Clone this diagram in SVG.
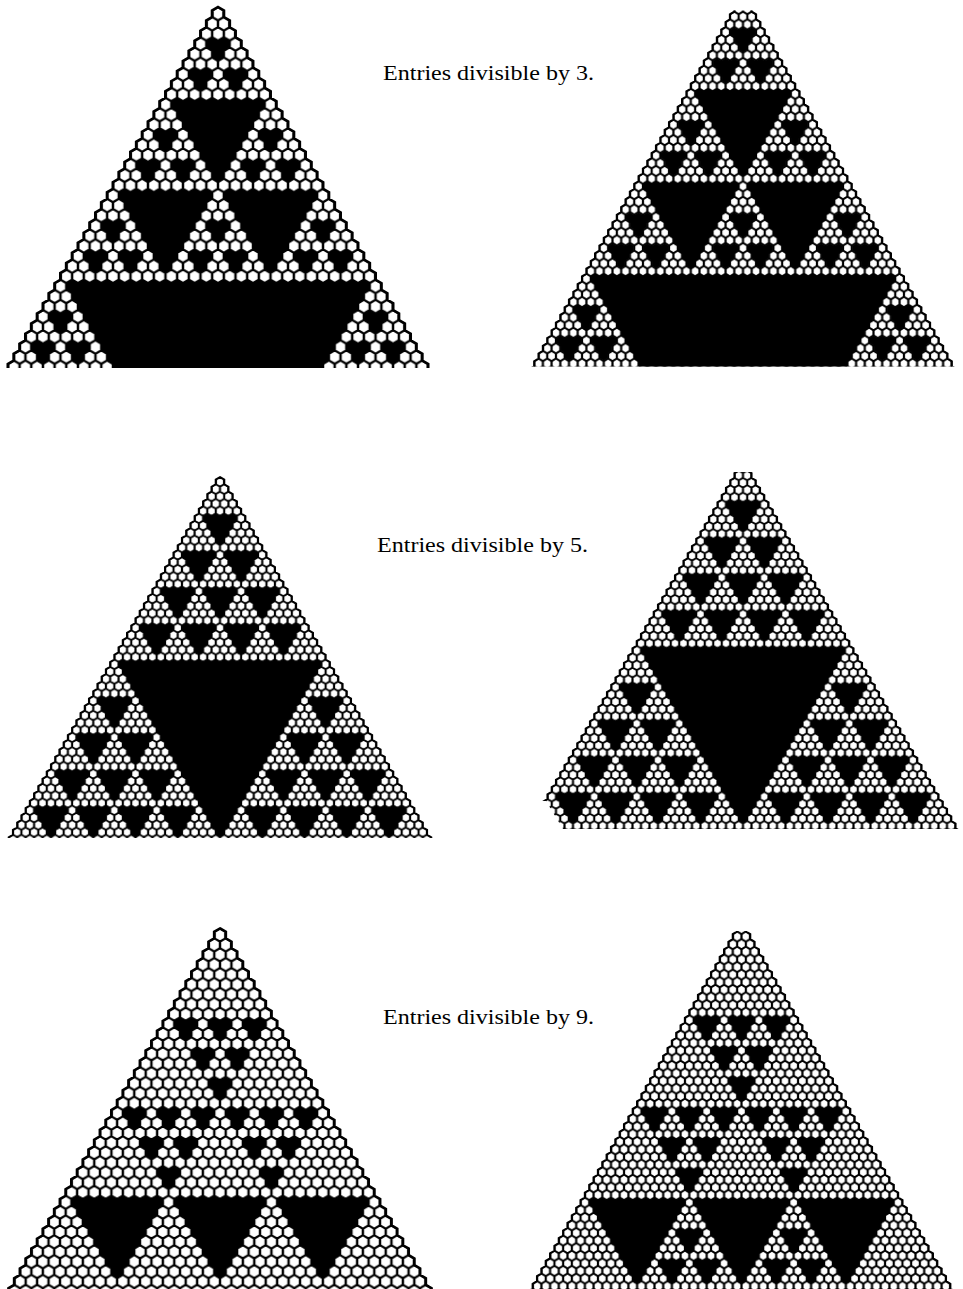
<svg xmlns="http://www.w3.org/2000/svg" width="963" height="1289" viewBox="0 0 963 1289">
<style>
text{font-family:"Liberation Serif","Times New Roman",serif;font-size:22px;fill:#000}
.ol{fill:none;stroke:#000;stroke-width:.25}
</style>
<defs>
<path id="T" d="M0-.667
l.5.333v.667l.5.333v.667l.5.333v.667l.5.333v.667 l.5.333v.667l.5.333v.667l.5.333v.667l.5.333v.667 l.5.333v.667l.5.333v.667l.5.333v.667l.5.333v.667 l.5.333v.667l.5.333v.667l.5.333v.667l.5.333v.667
l.5.333v.667l.5.333v.667l.5.333v.667l.5.333v.667 l.5.333v.667l.5.333v.667l.5.333v.667l.5.333v.667 l.5.333v.667l.5.333v.667l.5.333v.667l.5.333v.667 l.5.333v.667l.5.333v.667l.5.333v.667l.5.333v.667
l.5.333v.667l.5.333v.667l.5.333v.667l.5.333v.667 l.5.333v.667l.5.333v.667l.5.333v.667l.5.333v.667 l.5.333v.667l.5.333v.667l.5.333v.667l.5.333v.667 l.5.333v.667l.5.333v.667l.5.333v.667l.5.333v.667
l.5.333v.667l.5.333v.667l.5.333v.667l.5.333v.667
H-26
v-.667l.5-.333v-.667l.5-.333v-.667l.5-.333v-.667l.5-.333 v-.667l.5-.333v-.667l.5-.333v-.667l.5-.333v-.667l.5-.333 v-.667l.5-.333v-.667l.5-.333v-.667l.5-.333v-.667l.5-.333 v-.667l.5-.333v-.667l.5-.333v-.667l.5-.333v-.667l.5-.333
v-.667l.5-.333v-.667l.5-.333v-.667l.5-.333v-.667l.5-.333 v-.667l.5-.333v-.667l.5-.333v-.667l.5-.333v-.667l.5-.333 v-.667l.5-.333v-.667l.5-.333v-.667l.5-.333v-.667l.5-.333 v-.667l.5-.333v-.667l.5-.333v-.667l.5-.333v-.667l.5-.333
v-.667l.5-.333v-.667l.5-.333v-.667l.5-.333v-.667l.5-.333 v-.667l.5-.333v-.667l.5-.333v-.667l.5-.333v-.667l.5-.333 v-.667l.5-.333v-.667l.5-.333v-.667l.5-.333v-.667l.5-.333 v-.667l.5-.333v-.667l.5-.333v-.667l.5-.333v-.667l.5-.333
v-.667l.5-.333v-.667l.5-.333v-.667l.5-.333v-.667l.5-.333
z"/>
<clipPath id="cT"><use href="#T"/></clipPath>
<path id="hexes" d="M.5-.167l.5.333v.667l-.5.333l-.5-.333v-.667z M0 .833l.5.333v.667l-.5.333l-.5-.333v-.667z M1 .833l.5.333v.667l-.5.333l-.5-.333v-.667z M0-1.167l.5.333v.667l-.5.333l-.5-.333v-.667z M1-1.167l.5.333v.667l-.5.333l-.5-.333v-.667z M.5 1.833l.5.333v.667l-.5.333l-.5-.333v-.667z" fill="none" stroke="#000"/>
<pattern id="hx" patternUnits="userSpaceOnUse" x="-.5" y="-.5" width="1" height="2">
<use href="#hexes" stroke-width=".21"/>
</pattern>
<pattern id="hx2" patternUnits="userSpaceOnUse" x="-.5" y="-.5" width="1" height="2">
<use href="#hexes" stroke-width=".25"/>
</pattern>
<path id="t2" d="M-.5-.333 l.5-.333l.5.333l.5-.333l.5.333 v.667l-.5.333v.667l-.5.333 l-.5-.333v-.667l-.5-.333v-.667z"/>
<path id="t3" d="M-.5-.333 l.5-.333l.5.333l.5-.333l.5.333l.5-.333l.5.333 v.667l-.5.333v.667l-.5.333v.667l-.5.333 l-.5-.333v-.667l-.5-.333v-.667l-.5-.333v-.667z"/>
<path id="t4" d="M-.5-.333 l.5-.333l.5.333l.5-.333l.5.333l.5-.333l.5.333l.5-.333l.5.333 v.667l-.5.333v.667l-.5.333v.667l-.5.333v.667l-.5.333 l-.5-.333v-.667l-.5-.333v-.667l-.5-.333v-.667l-.5-.333v-.667z"/>
<path id="t8" d="M-.5-.333
l.5-.333l.5.333l.5-.333l.5.333l.5-.333l.5.333l.5-.333l.5.333l.5-.333l.5.333 l.5-.333l.5.333l.5-.333l.5.333l.5-.333l.5.333
v.667l-.5.333v.667l-.5.333v.667l-.5.333v.667l-.5.333v.667l-.5.333 v.667l-.5.333v.667l-.5.333v.667l-.5.333
l-.5-.333v-.667l-.5-.333v-.667l-.5-.333v-.667l-.5-.333v-.667l-.5-.333v-.667 l-.5-.333v-.667l-.5-.333v-.667l-.5-.333v-.667z"/>
<path id="t11" d="M-.5-.333
l.5-.333l.5.333l.5-.333l.5.333l.5-.333l.5.333l.5-.333l.5.333l.5-.333l.5.333 l.5-.333l.5.333l.5-.333l.5.333l.5-.333l.5.333l.5-.333l.5.333l.5-.333l.5.333 l.5-.333l.5.333
v.667l-.5.333v.667l-.5.333v.667l-.5.333v.667l-.5.333v.667l-.5.333 v.667l-.5.333v.667l-.5.333v.667l-.5.333v.667l-.5.333v.667l-.5.333 v.667l-.5.333
l-.5-.333v-.667l-.5-.333v-.667l-.5-.333v-.667l-.5-.333v-.667l-.5-.333v-.667 l-.5-.333v-.667l-.5-.333v-.667l-.5-.333v-.667l-.5-.333v-.667l-.5-.333v-.667 l-.5-.333v-.667z"/>
<path id="t24" d="M-.5-.333
l.5-.333l.5.333l.5-.333l.5.333l.5-.333l.5.333l.5-.333l.5.333l.5-.333l.5.333 l.5-.333l.5.333l.5-.333l.5.333l.5-.333l.5.333l.5-.333l.5.333l.5-.333l.5.333 l.5-.333l.5.333l.5-.333l.5.333l.5-.333l.5.333l.5-.333l.5.333l.5-.333l.5.333 l.5-.333l.5.333l.5-.333l.5.333l.5-.333l.5.333l.5-.333l.5.333l.5-.333l.5.333 l.5-.333l.5.333l.5-.333l.5.333l.5-.333l.5.333l.5-.333l.5.333
v.667l-.5.333v.667l-.5.333v.667l-.5.333v.667l-.5.333v.667l-.5.333 v.667l-.5.333v.667l-.5.333v.667l-.5.333v.667l-.5.333v.667l-.5.333 v.667l-.5.333v.667l-.5.333v.667l-.5.333v.667l-.5.333v.667l-.5.333 v.667l-.5.333v.667l-.5.333v.667l-.5.333v.667l-.5.333v.667l-.5.333 v.667l-.5.333v.667l-.5.333v.667l-.5.333v.667l-.5.333
l-.5-.333v-.667l-.5-.333v-.667l-.5-.333v-.667l-.5-.333v-.667l-.5-.333v-.667 l-.5-.333v-.667l-.5-.333v-.667l-.5-.333v-.667l-.5-.333v-.667l-.5-.333v-.667 l-.5-.333v-.667l-.5-.333v-.667l-.5-.333v-.667l-.5-.333v-.667l-.5-.333v-.667 l-.5-.333v-.667l-.5-.333v-.667l-.5-.333v-.667l-.5-.333v-.667l-.5-.333v-.667 l-.5-.333v-.667l-.5-.333v-.667l-.5-.333v-.667l-.5-.333v-.667z"/>
<path id="t26" d="M-.5-.333
l.5-.333l.5.333l.5-.333l.5.333l.5-.333l.5.333l.5-.333l.5.333l.5-.333l.5.333 l.5-.333l.5.333l.5-.333l.5.333l.5-.333l.5.333l.5-.333l.5.333l.5-.333l.5.333 l.5-.333l.5.333l.5-.333l.5.333l.5-.333l.5.333l.5-.333l.5.333l.5-.333l.5.333 l.5-.333l.5.333l.5-.333l.5.333l.5-.333l.5.333l.5-.333l.5.333l.5-.333l.5.333 l.5-.333l.5.333l.5-.333l.5.333l.5-.333l.5.333l.5-.333l.5.333l.5-.333l.5.333 l.5-.333l.5.333
v.667l-.5.333v.667l-.5.333v.667l-.5.333v.667l-.5.333v.667l-.5.333 v.667l-.5.333v.667l-.5.333v.667l-.5.333v.667l-.5.333v.667l-.5.333 v.667l-.5.333v.667l-.5.333v.667l-.5.333v.667l-.5.333v.667l-.5.333 v.667l-.5.333v.667l-.5.333v.667l-.5.333v.667l-.5.333v.667l-.5.333 v.667l-.5.333v.667l-.5.333v.667l-.5.333v.667l-.5.333v.667l-.5.333 v.667l-.5.333
l-.5-.333v-.667l-.5-.333v-.667l-.5-.333v-.667l-.5-.333v-.667l-.5-.333v-.667 l-.5-.333v-.667l-.5-.333v-.667l-.5-.333v-.667l-.5-.333v-.667l-.5-.333v-.667 l-.5-.333v-.667l-.5-.333v-.667l-.5-.333v-.667l-.5-.333v-.667l-.5-.333v-.667 l-.5-.333v-.667l-.5-.333v-.667l-.5-.333v-.667l-.5-.333v-.667l-.5-.333v-.667 l-.5-.333v-.667l-.5-.333v-.667l-.5-.333v-.667l-.5-.333v-.667l-.5-.333v-.667 l-.5-.333v-.667z"/>
<path id="t35" d="M-.5-.333
l.5-.333l.5.333l.5-.333l.5.333l.5-.333l.5.333l.5-.333l.5.333l.5-.333l.5.333 l.5-.333l.5.333l.5-.333l.5.333l.5-.333l.5.333l.5-.333l.5.333l.5-.333l.5.333 l.5-.333l.5.333l.5-.333l.5.333l.5-.333l.5.333l.5-.333l.5.333l.5-.333l.5.333 l.5-.333l.5.333l.5-.333l.5.333l.5-.333l.5.333l.5-.333l.5.333l.5-.333l.5.333 l.5-.333l.5.333l.5-.333l.5.333l.5-.333l.5.333l.5-.333l.5.333l.5-.333l.5.333 l.5-.333l.5.333l.5-.333l.5.333l.5-.333l.5.333l.5-.333l.5.333l.5-.333l.5.333 l.5-.333l.5.333l.5-.333l.5.333l.5-.333l.5.333l.5-.333l.5.333l.5-.333l.5.333
v.667l-.5.333v.667l-.5.333v.667l-.5.333v.667l-.5.333v.667l-.5.333 v.667l-.5.333v.667l-.5.333v.667l-.5.333v.667l-.5.333v.667l-.5.333 v.667l-.5.333v.667l-.5.333v.667l-.5.333v.667l-.5.333v.667l-.5.333 v.667l-.5.333v.667l-.5.333v.667l-.5.333v.667l-.5.333v.667l-.5.333 v.667l-.5.333v.667l-.5.333v.667l-.5.333v.667l-.5.333v.667l-.5.333 v.667l-.5.333v.667l-.5.333v.667l-.5.333v.667l-.5.333v.667l-.5.333 v.667l-.5.333v.667l-.5.333v.667l-.5.333v.667l-.5.333v.667l-.5.333
l-.5-.333v-.667l-.5-.333v-.667l-.5-.333v-.667l-.5-.333v-.667l-.5-.333v-.667 l-.5-.333v-.667l-.5-.333v-.667l-.5-.333v-.667l-.5-.333v-.667l-.5-.333v-.667 l-.5-.333v-.667l-.5-.333v-.667l-.5-.333v-.667l-.5-.333v-.667l-.5-.333v-.667 l-.5-.333v-.667l-.5-.333v-.667l-.5-.333v-.667l-.5-.333v-.667l-.5-.333v-.667 l-.5-.333v-.667l-.5-.333v-.667l-.5-.333v-.667l-.5-.333v-.667l-.5-.333v-.667 l-.5-.333v-.667l-.5-.333v-.667l-.5-.333v-.667l-.5-.333v-.667l-.5-.333v-.667 l-.5-.333v-.667l-.5-.333v-.667l-.5-.333v-.667l-.5-.333v-.667l-.5-.333v-.667z"/>
<pattern id="gp" patternUnits="userSpaceOnUse" x="0" y="-1" width="4" height="8">
<use href="#t3" x="1" y="1"/><use href="#t3" x="3" y="5"/><use href="#t3" x="-1" y="5"/>
</pattern>
<g id="h9"><use href="#t2" x="-.5" y="3"/><use href="#t2" x="-2" y="6"/><use href="#t2" x="1" y="6"/></g>
<g id="m25">
<use href="#t4" x="-1.5" y="5"/>
<use href="#t4" x="-4" y="10"/><use href="#t4" x="1" y="10"/>
<use href="#t4" x="-6.5" y="15"/><use href="#t4" x="-1.5" y="15"/><use href="#t4" x="3.5" y="15"/>
<use href="#t4" x="-9" y="20"/><use href="#t4" x="-4" y="20"/><use href="#t4" x="1" y="20"/><use href="#t4" x="6" y="20"/>
</g>
<clipPath id="kTL"><rect x="0" y="0" width="450" height="368"/></clipPath>
<clipPath id="kTR"><rect x="515" y="10.5" width="448" height="356"/></clipPath>
<clipPath id="kML"><rect x="0" y="465" width="450" height="373"/></clipPath>
<clipPath id="kMR"><path d="M515 472H963V829H563L546 801H515Z"/></clipPath>
<clipPath id="kBL"><rect x="0" y="915" width="450" height="374"/></clipPath>
<clipPath id="kBR"><rect x="515" y="931" width="448" height="358"/></clipPath>
</defs>
<rect width="963" height="1289" fill="#fff"/>

<g id="fig-top-left" clip-path="url(#kTL)">
<g transform="translate(218 13.74) scale(11.67 10.1)">
<rect x="-27" y="-1" width="54" height="54" fill="url(#hx)" clip-path="url(#cT)"/>
<use href="#h9"/><use href="#h9" x="-4.5" y="9"/><use href="#h9" x="4.5" y="9"/>
<use href="#h9" x="-9" y="18"/><use href="#h9" y="18"/><use href="#h9" x="9" y="18"/>
<use href="#h9" x="-13.5" y="27"/><use href="#h9" x="13.5" y="27"/>
<use href="#t8" x="-3.5" y="9"/><use href="#t8" x="-8" y="18"/><use href="#t8" x="1" y="18"/>
<use href="#t26" x="-12.5" y="27"/>
<use href="#T" class="ol"/>
</g>
</g>

<g id="fig-top-right" clip-path="url(#kTR)">
<g transform="translate(743 1.35) scale(8.7 7.71)">
<rect x="-27" y="-1" width="54" height="54" fill="url(#hx2)" clip-path="url(#cT)"/>
<rect x="-27" y="-1" width="54" height="54" fill="url(#gp)" clip-path="url(#cT)"/>
<use href="#t11" x="-5" y="12"/><use href="#t11" x="-11" y="24"/><use href="#t11" x="1" y="24"/>
<use href="#t35" x="-17" y="36"/>
<use href="#T" class="ol"/>
</g>
</g>

<g id="fig-mid-left" clip-path="url(#kML)">
<g transform="translate(220 481.9) scale(8.45 7.3)">
<rect x="-27" y="-1" width="54" height="54" fill="url(#hx2)" clip-path="url(#cT)"/>
<use href="#m25"/><use href="#m25" x="-12.5" y="25"/><use href="#m25" x="12.5" y="25"/>
<use href="#t24" x="-11.5" y="25"/>
<use href="#T" class="ol"/>
</g>
</g>

<g id="fig-mid-right" clip-path="url(#kMR)">
<g transform="translate(743 468.2) scale(8.5 7.3)">
<rect x="-27" y="-1" width="54" height="54" fill="url(#hx2)" clip-path="url(#cT)"/>
<use href="#m25"/><use href="#m25" x="-12.5" y="25"/><use href="#m25" x="12.5" y="25"/>
<use href="#t24" x="-11.5" y="25"/>
<use href="#T" class="ol"/>
</g>
</g>

<g id="fig-bottom-left" clip-path="url(#kBL)">
<g transform="translate(220 935) scale(11.43 9.9)">
<rect x="-27" y="-1" width="54" height="54" fill="url(#hx)" clip-path="url(#cT)"/>
<use href="#t2" x="-3.5" y="9"/><use href="#t2" x="-.5" y="9"/><use href="#t2" x="2.5" y="9"/>
<use href="#t2" x="-2" y="12"/><use href="#t2" x="1" y="12"/>
<use href="#t2" x="-.5" y="15"/>
<use href="#t2" x="-8" y="18"/><use href="#t2" x="-5" y="18"/><use href="#t2" x="-2" y="18"/><use href="#t2" x="1" y="18"/><use href="#t2" x="4" y="18"/><use href="#t2" x="7" y="18"/>
<use href="#t2" x="-6.5" y="21"/><use href="#t2" x="-3.5" y="21"/><use href="#t2" x="2.5" y="21"/><use href="#t2" x="5.5" y="21"/>
<use href="#t2" x="-5" y="24"/><use href="#t2" x="4" y="24"/>
<use href="#t8" x="-12.5" y="27"/><use href="#t8" x="-3.5" y="27"/><use href="#t8" x="5.5" y="27"/>
<use href="#T" class="ol"/>
</g>
</g>

<g id="fig-bottom-right" clip-path="url(#kBR)">
<g transform="translate(741.5 929) scale(8.7 7.6)">
<rect x="-27" y="-1" width="54" height="54" fill="url(#hx2)" clip-path="url(#cT)"/>
<use href="#t3" x="-5" y="12"/><use href="#t3" x="-1" y="12"/><use href="#t3" x="3" y="12"/>
<use href="#t3" x="-3" y="16"/><use href="#t3" x="1" y="16"/>
<use href="#t3" x="-1" y="20"/>
<use href="#t3" x="-11" y="24"/><use href="#t3" x="-7" y="24"/><use href="#t3" x="-3" y="24"/><use href="#t3" x="1" y="24"/><use href="#t3" x="5" y="24"/><use href="#t3" x="9" y="24"/>
<use href="#t3" x="-9" y="28"/><use href="#t3" x="-5" y="28"/><use href="#t3" x="3" y="28"/><use href="#t3" x="7" y="28"/>
<use href="#t3" x="-7" y="32"/><use href="#t3" x="5" y="32"/>
<use href="#t11" x="-17" y="36"/><use href="#t11" x="-5" y="36"/><use href="#t11" x="7" y="36"/>
<use href="#t3" x="-7" y="40"/><use href="#t3" x="5" y="40"/>
<use href="#t3" x="-9" y="44"/><use href="#t3" x="-5" y="44"/><use href="#t3" x="3" y="44"/><use href="#t3" x="7" y="44"/>
<use href="#T" class="ol"/>
</g>
</g>

<g id="label-3"><text x="383" y="80" textLength="211" lengthAdjust="spacingAndGlyphs">Entries divisible by 3.</text></g>
<g id="label-5"><text x="377" y="552" textLength="211" lengthAdjust="spacingAndGlyphs">Entries divisible by 5.</text></g>
<g id="label-9"><text x="383" y="1024" textLength="211" lengthAdjust="spacingAndGlyphs">Entries divisible by 9.</text></g>
</svg>
